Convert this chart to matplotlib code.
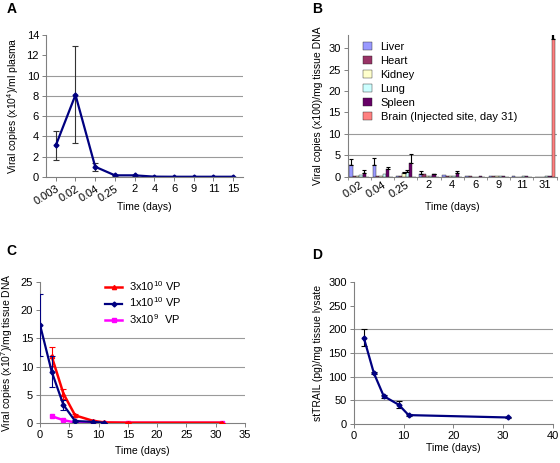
import numpy as np
import matplotlib
matplotlib.use('Agg')
import matplotlib.pyplot as plt
from matplotlib.lines import Line2D

plt.rcParams['font.family'] = ['Liberation Sans', 'DejaVu Sans']
plt.rcParams['mathtext.fontset'] = 'custom'
plt.rcParams['mathtext.rm'] = 'Liberation Sans'
plt.rcParams['font.size'] = 7.5
plt.rcParams['xtick.labelsize'] = 8
plt.rcParams['ytick.labelsize'] = 8

NAVY = '#000080'
GRID = '#9a9a9a'

# Panel A: plasma
a_labels = ['0.003', '0.02', '0.04', '0.25', '2', '4', '6', '9', '11', '15']
a_vals = [3.1, 8.1, 1.0, 0.15, 0.15, 0.02, 0.01, 0.01, 0.01, 0.01]
a_err = [1.4, 4.8, 0.4, 0.05, 0.05, 0, 0, 0, 0, 0]

# Panel B: tissues
b_labels = ['0.02', '0.04', '0.25', '2', '4', '6', '9', '11', '31']
b_series = ['Liver', 'Heart', 'Kidney', 'Lung', 'Spleen', 'Brain (Injected site, day 31)']
b_colors = ['#9999ff', '#993366', '#ffffcc', '#ccffff', '#660066', '#ff8080']
b_liver = [2.8, 2.8, 0.2, 0.6, 0.4, 0.1, 0.1, 0.1, 0.05]
b_heart = [0.3, 0.1, 0.2, 0.6, 0.1, 0.1, 0.1, 0.05, 0.05]
b_kidney = [0.3, 0.1, 0.8, 0.3, 0.1, 0.05, 0.1, 0.05, 0.05]
b_lung = [0.5, 0.7, 1.1, 0.3, 0.1, 0.05, 0.1, 0.1, 0.1]
b_spleen = [1.0, 1.8, 3.3, 0.6, 0.8, 0.2, 0.2, 0.2, 0.2]
b_brain = [0, 0, 0, 0, 0, 0, 0, 0, 32.0]
b_liver_err = [1.3, 1.5, 0, 0.7, 0, 0, 0, 0, 0]
b_heart_err = [0, 0, 0, 0, 0, 0, 0, 0, 0]
b_kidney_err = [0, 0, 0.3, 0, 0, 0, 0, 0, 0]
b_lung_err = [0, 0, 0.4, 0, 0, 0, 0, 0, 0]
b_spleen_err = [0.6, 0.6, 2.0, 0.1, 0.6, 0, 0, 0, 0]
b_brain_err = [0, 0, 0, 0, 0, 0, 0, 0, 23.0]

# Panel C: dose groups
c_hi_x = [2, 4, 6, 9, 11, 15, 31]
c_hi = [11.8, 5.2, 1.35, 0.4, 0.1, 0.05, 0.05]
c_hi_err = [1.7, 0.9, 0.2, 0.1, 0, 0, 0]
c_mid_x = [0, 2, 4, 6, 9, 11]
c_mid = [17.4, 9.1, 3.2, 0.35, 0.2, 0.05]
c_mid_err = [5.5, 2.8, 0.9, 0.1, 0.05, 0]
c_lo_x = [2, 4, 6, 9, 11, 15, 31]
c_lo = [1.2, 0.5, 0.1, 0.2, 0.05, 0.05, 0.05]
c_names = ['3x10$^{10}$ VP', '1x10$^{10}$ VP', '3x10$^9$  VP']

# Panel D: stTRAIL
d_x = [2, 4, 6, 9, 11, 31]
d_vals = [182, 108, 59, 41, 19, 14]
d_err = [18, 3, 3, 8, 2, 2]

fig = plt.figure(figsize=(5.6, 4.63), dpi=100)


def style(ax):
    for s in ['top', 'right']:
        ax.spines[s].set_visible(False)
    for s in ['left', 'bottom']:
        ax.spines[s].set_color('#808080')
        ax.spines[s].set_linewidth(0.8)
    ax.tick_params(length=3, width=0.7, color='#808080', pad=2)


def tilt(ax, n):
    for i, t in enumerate(ax.get_xticklabels()):
        if i < n:
            t.set_rotation(32)
            t.set_ha('right')
            t.set_rotation_mode('anchor')


# A
axA = fig.add_axes([0.082, 0.618, 0.352, 0.306])
style(axA)
xa = np.arange(len(a_labels))
for g in [2, 4, 6, 8, 10]:
    axA.axhline(g, color=GRID, lw=0.8, zorder=0)
axA.errorbar(xa, a_vals, yerr=a_err, color=NAVY, lw=1.6, marker='D', ms=2.5,
             ecolor='#333333', elinewidth=0.8, capsize=2, capthick=0.8)
axA.set_xlim(-0.5, len(a_labels) - 0.5)
axA.set_ylim(0, 14)
axA.set_yticks(range(0, 15, 2))
axA.set_xticks(xa)
axA.set_xticklabels(a_labels)
tilt(axA, 4)
axA.set_xlabel('Time (days)')
axA.xaxis.set_label_coords(0.5, -0.18)
axA.set_ylabel('Viral copies (x10$^4$)/ml plasma')

# B
axB = fig.add_axes([0.621, 0.618, 0.373, 0.306])
style(axB)
for g in [5, 10]:
    axB.axhline(g, color=GRID, lw=0.8, zorder=0)
xb = np.arange(len(b_labels))
vals = [b_liver, b_heart, b_kidney, b_lung, b_spleen, b_brain]
errs = [b_liver_err, b_heart_err, b_kidney_err, b_lung_err, b_spleen_err, b_brain_err]
w = 1 / 7
for k, (v, e) in enumerate(zip(vals, errs)):
    pos = xb + (k - 2.5) * w
    axB.bar(pos, v, width=w, color=b_colors[k], edgecolor='#222222', lw=0.3,
            label=b_series[k], zorder=2)
    e = np.array(e)
    m = e > 0
    axB.errorbar(pos[m], np.array(v)[m], yerr=[np.zeros(m.sum()), e[m]], fmt='none',
                 ecolor='black', elinewidth=0.8 if k < 5 else 1.6, capsize=1.5,
                 capthick=0.8, zorder=3)
axB.set_xlim(-0.5, len(b_labels) - 0.5)
axB.set_ylim(0, 33)
axB.set_yticks(range(0, 31, 5))
axB.set_xticks(xb)
axB.set_xticklabels(b_labels)
axB.tick_params(axis='x', length=0)
axB.set_xticks(np.arange(-0.5, len(b_labels)), minor=True)
axB.tick_params(axis='x', which='minor', length=2, color='#808080')
tilt(axB, 3)
axB.set_xlabel('Time (days)')
axB.xaxis.set_label_coords(0.5, -0.18)
axB.set_ylabel('Viral copies (x100)/mg tissue DNA')
axB.legend(loc='upper left', bbox_to_anchor=(0.04, 1.0), frameon=False,
           handlelength=0.8, handleheight=0.8, handletextpad=0.8,
           labelspacing=0.35, borderaxespad=0.2, fontsize=8)

# C
axC = fig.add_axes([0.0714, 0.0864, 0.366, 0.305])
style(axC)
for g in [5, 10, 15]:
    axC.axhline(g, color=GRID, lw=0.8, zorder=0)
axC.errorbar(c_hi_x, c_hi, yerr=c_hi_err, color='#ff0000', lw=1.8, marker='^', ms=3,
             elinewidth=0.8, capsize=2, capthick=0.8, zorder=3)
axC.errorbar(c_mid_x, c_mid, yerr=c_mid_err, color=NAVY, lw=1.6, marker='D', ms=2.5,
             elinewidth=0.8, capsize=2, capthick=0.8, zorder=4)
axC.plot(c_lo_x, c_lo, color='#ff00ff', lw=1.8, marker='s', ms=3, zorder=2)
axC.set_xlim(0, 35)
axC.set_ylim(0, 25)
axC.set_xticks(range(0, 36, 5))
axC.set_yticks(range(0, 26, 5))
axC.set_xlabel('Time (days)')
axC.xaxis.set_label_coords(0.5, -0.16)
axC.set_ylabel('Viral copies (x10$^7$)/mg tissue DNA')
handles = [Line2D([], [], color='#ff0000', lw=1.8, marker='^', ms=3),
           Line2D([], [], color=NAVY, lw=1.6, marker='D', ms=2.5),
           Line2D([], [], color='#ff00ff', lw=1.8, marker='s', ms=3)]
axC.legend(handles, c_names, loc='upper left', bbox_to_anchor=(0.27, 1.09),
           frameon=False, handlelength=1.5, handletextpad=0.6,
           labelspacing=0.25, fontsize=8)

# D
axD = fig.add_axes([0.632, 0.084, 0.355, 0.307])
style(axD)
for g in [50, 100, 150, 200]:
    axD.axhline(g, color=GRID, lw=0.8, zorder=0)
axD.errorbar(d_x, d_vals, yerr=d_err, color=NAVY, lw=1.6, marker='D', ms=2.5,
             ecolor='black', elinewidth=0.8, capsize=2, capthick=0.8)
axD.set_xlim(0, 40)
axD.set_ylim(0, 300)
axD.set_xticks(range(0, 41, 10))
axD.set_yticks(range(0, 301, 50))
axD.set_xlabel('Time (days)')
axD.xaxis.set_label_coords(0.5, -0.135)
axD.set_ylabel('stTRAIL (pg)/mg tissue lysate')

for lbl, x, y in [('A', 0.012, 0.995), ('B', 0.558, 0.995), ('C', 0.012, 0.472), ('D', 0.558, 0.465)]:
    fig.text(x, y, lbl, fontsize=10, fontweight='bold', va='top')

fig.savefig('out.png', dpi=100)
